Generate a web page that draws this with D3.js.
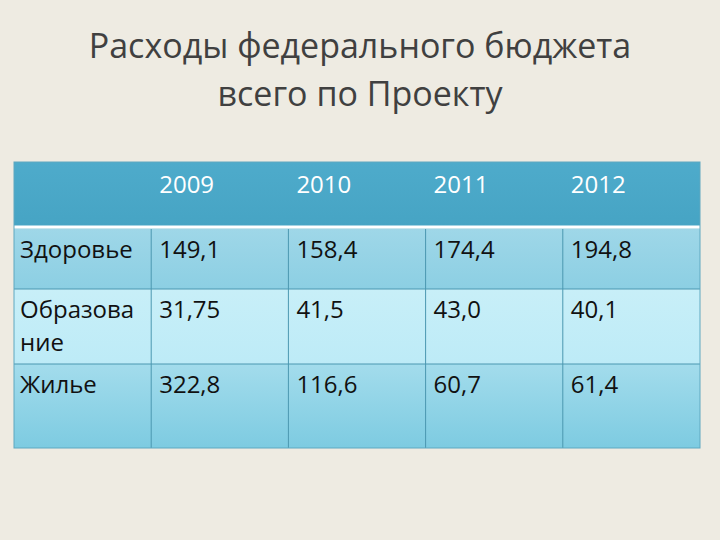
<!DOCTYPE html>
<html><head><meta charset="utf-8">
<script src="https://cdn.jsdelivr.net/npm/d3@7"></script>
<style>body{margin:0;background:#eeebe2;}svg{display:block;}</style>
</head><body>
<svg id="c" width="720" height="540"></svg>
<script>
const titleLines = ["Расходы федерального бюджета", "всего по Проекту"];
const years = ["2009", "2010", "2011", "2012"];
const categories = [["Здоровье"], ["Образова", "ние"], ["Жилье"]];
const health = ["149,1", "158,4", "174,4", "194,8"];
const education = ["31,75", "41,5", "43,0", "40,1"];
const housing = ["322,8", "116,6", "60,7", "61,4"];
const rows = [health, education, housing];

const svg = d3.select("#c");
const defs = svg.append("defs");
function grad(id, c1, c2){
  const g = defs.append("linearGradient").attr("id", id).attr("x1",0).attr("y1",0).attr("x2",0).attr("y2",1);
  g.append("stop").attr("offset","0%").attr("stop-color",c1);
  g.append("stop").attr("offset","100%").attr("stop-color",c2);
}
grad("g0","#9fd7e8","#8ccfe3");
grad("g1","#c8eff8","#bdebf7");
grad("g2","#a3dcec","#7dcbe1");
grad("gh","#4eabcb","#46a4c4");

svg.append("g").selectAll("text").data(titleLines).join("text")
  .attr("x", 360).attr("y", (d,i)=>58+i*48).attr("text-anchor","middle")
  .attr("font-family","Open Sans, sans-serif").attr("font-size",34).attr("fill","#404040").text(d=>d);

const cols = ["", ...years];
const x = d3.scaleBand().domain(d3.range(cols.length)).range([14,700]);
const rowEdges = [162, 226, 289, 364, 448];
const y = i => rowEdges[i];
const fs = 24;

svg.append("rect").attr("x",14).attr("y",y(0)).attr("width",686).attr("height",y(1)-y(0)).attr("fill","url(#gh)");
svg.append("line").attr("x1",14).attr("x2",700).attr("y1",y(1)+1).attr("y2",y(1)+1).attr("stroke","#ffffff").attr("stroke-width",3);
svg.append("g").selectAll("text").data(years).join("text")
  .attr("x",(d,i)=>x(i+1)+8).attr("y",y(0)+31)
  .attr("font-family","Open Sans, sans-serif").attr("font-size",fs).attr("fill","#ffffff").text(d=>d);

rows.forEach((vals, r) => {
  const top = y(r+1)+(r===0?2.5:0), bot = y(r+2);
  svg.append("rect").attr("x",14).attr("y",top).attr("width",686).attr("height",bot-top).attr("fill",`url(#g${r})`);
  const tg = svg.append("text").attr("font-family","Open Sans, sans-serif").attr("font-size",fs).attr("fill","#111");
  categories[r].forEach((ln,k)=>tg.append("tspan").attr("x",20).attr("y",top+29+k*33).text(ln));
  svg.append("g").selectAll("text").data(vals).join("text")
    .attr("x",(d,i)=>x(i+1)+8).attr("y",top+29)
    .attr("font-family","Open Sans, sans-serif").attr("font-size",fs).attr("fill","#111").text(d=>d);
});
const gl = svg.append("g").attr("stroke","#4b97b0").attr("stroke-width",1);
d3.range(1,cols.length).forEach(i=>gl.append("line").attr("x1",x(i)).attr("x2",x(i)).attr("y1",y(1)+3).attr("y2",y(4)));
[2,3].forEach(i=>gl.append("line").attr("x1",14).attr("x2",700).attr("y1",y(i)).attr("y2",y(i)));
gl.append("rect").attr("x",14).attr("y",y(0)).attr("width",686).attr("height",y(4)-y(0)).attr("fill","none").attr("stroke","#5ea8c0");
</script>
</body></html>
